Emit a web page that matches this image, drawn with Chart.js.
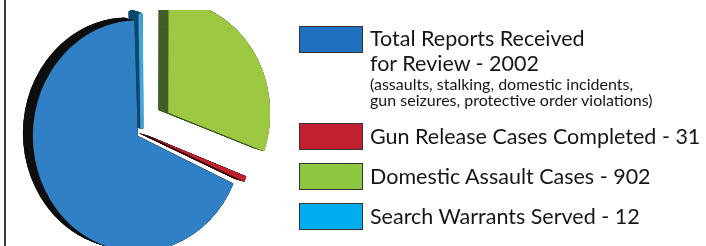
<!DOCTYPE html>
<html>
<head>
<meta charset="utf-8">
<script src="https://cdn.jsdelivr.net/npm/chart.js@4.4.0/dist/chart.umd.min.js"></script>
<style>
  html, body { margin: 0; padding: 0; background: #fff; }
  body { width: 706px; height: 246px; position: relative; overflow: hidden; font-family: Lato, 'Open Sans', sans-serif; color: #161616; }
  #frame { position: absolute; left: 4px; top: 0; width: 2px; height: 246px; background: #3a3a3a; }
  #pie { position: absolute; left: 0; top: 0; }
  #legend { position: absolute; left: 299px; top: 26px; }
  .item { position: relative; height: 40px; }
  .item.first { height: 97px; }
  .swatch { position: absolute; left: 0; top: 0; width: 62px; height: 25px; border: 1px solid #333; }
  .label { position: absolute; left: 71px; top: 1px; font-size: 21.5px; line-height: 25px; white-space: nowrap; }
  .first .label { top: 0; }
  .note { font-size: 16px; line-height: 15.5px; }
</style>
</head>
<body>
<div id="frame"></div>
<canvas id="pie" width="706" height="246"></canvas>
<div id="legend"></div>
<script>
// legend order
const categories = [
    ['Total Reports Received', 'for Review'],
    ['Gun Release Cases Completed'],
    ['Domestic Assault Cases'],
    ['Search Warrants Served']
];
const values = [2002, 31, 902, 12];
const notes = ['(assaults, stalking, domestic incidents,', 'gun seizures, protective order violations)'];

// clockwise from 12 o'clock: domestic, gun release, total, warrants
const sliceOrder = [2, 1, 0, 3];

const swatchColors = ['#1f70bf', '#c0202f', '#8dc63f', '#00adee'];
const faceColors = ['#2f80c4', '#c1212b', '#9dc842', '#3fa6de'];
const sideColors = ['#111111', '#3a0c10', '#41602a', '#0f4b6d'];
const offsets = [20, 24, 128, 16];
const edgeWidths = [0, 0, 0, 3];   // thin warrants slice gets a same-colour edge so it shows

const depth = 10;
const step = 0.2;
const squash = 1.1;

function stretch(ctx, cx, cy) {
    ctx.translate(cx, cy);
    ctx.scale(1, squash);
    ctx.translate(-cx, -cy);
}

// fake 3d: dark copies of each slice pushed up-left, then the faces on top
const pie3d = {
    id: 'pie3d',
    beforeDatasetsDraw(chart) {
        const ctx = chart.ctx;
        const arcs = chart.getDatasetMeta(0).data;
        const cx = arcs[0].x, cy = arcs[0].y;
        ctx.save();
        ctx.beginPath();
        ctx.rect(0, 10, 270, 236);
        ctx.clip();
        for (let k = depth; k > 0; k -= step) {
            ctx.save();
            ctx.translate(-k, -k * 0.3);
            stretch(ctx, cx, cy);
            arcs.forEach((arc, j) => {
                const side = Object.create(arc);
                side.options = Object.assign({}, arc.options, {
                    backgroundColor: sideColors[sliceOrder[j]],
                    borderColor: sideColors[sliceOrder[j]]
                });
                arc.draw.call(side, ctx);
            });
            ctx.restore();
        }
        stretch(ctx, cx, cy);
    },
    afterDatasetsDraw(chart) {
        chart.ctx.restore();
    }
};

new Chart(document.getElementById('pie'), {
    type: 'pie',
    data: {
        labels: sliceOrder.map(i => categories[i].join(' ')),
        datasets: [{
            data: sliceOrder.map(i => values[i]),
            backgroundColor: sliceOrder.map(i => faceColors[i]),
            borderColor: sliceOrder.map(i => faceColors[i]),
            borderWidth: sliceOrder.map(i => edgeWidths[i]),
            offset: sliceOrder.map(i => offsets[i]),
            radius: 100,
            clip: false
        }]
    },
    options: {
        responsive: false,
        animation: false,
        events: [],
        radius: 100,
        // centre of the pie at x 142, y 133
        layout: { padding: { left: 0, right: 422, top: 20, bottom: 0 } },
        plugins: {
            legend: { display: false },
            tooltip: { enabled: false }
        }
    },
    plugins: [pie3d]
});

// legend
const legend = document.getElementById('legend');
categories.forEach((lines, i) => {
    const item = document.createElement('div');
    item.className = 'item' + (i === 0 ? ' first' : '');
    const sw = document.createElement('div');
    sw.className = 'swatch';
    sw.style.background = swatchColors[i];
    item.appendChild(sw);
    const label = document.createElement('div');
    label.className = 'label';
    const text = lines.slice();
    text[text.length - 1] += ' - ' + values[i];
    label.innerHTML = text.map(t => '<div>' + t + '</div>').join('');
    if (i === 0) {
        label.innerHTML += notes.map(t => '<div class="note">' + t + '</div>').join('');
    }
    item.appendChild(label);
    legend.appendChild(item);
});
</script>
</body>
</html>
